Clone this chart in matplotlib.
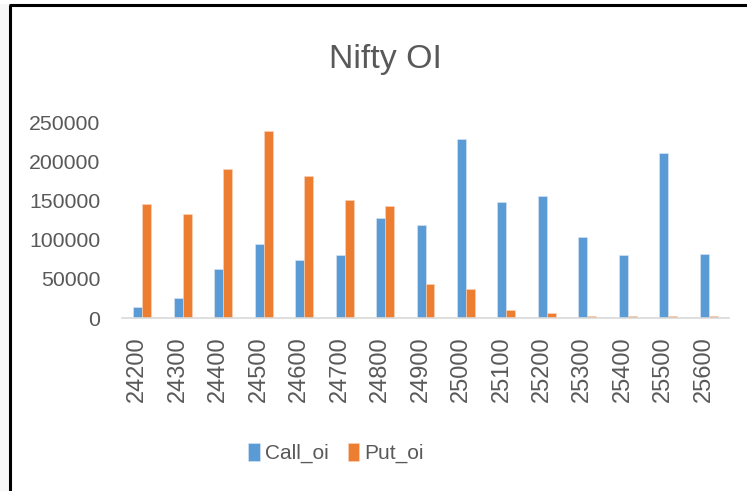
import matplotlib
matplotlib.use("Agg")
import matplotlib.pyplot as plt
import matplotlib.transforms as mtransforms
from matplotlib.lines import Line2D
from matplotlib.patches import Rectangle
import numpy as np

strikes = ["24200", "24300", "24400", "24500", "24600", "24700", "24800", "24900",
           "25000", "25100", "25200", "25300", "25400", "25500", "25600"]
call_oi = [14000, 25000, 63000, 95000, 74500, 80000, 127500, 118500,
           228000, 148500, 156000, 103000, 80000, 211000, 82000]
put_oi = [146000, 133000, 190000, 239000, 180500, 150500, 142500, 43000,
          36500, 10000, 6000, 2500, 2500, 2500, 2500]
yticks = [0, 50000, 100000, 150000, 200000, 250000]

plt.rcParams['font.family'] = ['Liberation Sans', 'DejaVu Sans']
TXT = '#595959'
W, H = 747, 491
fig = plt.figure(figsize=(W / 100, H / 100), dpi=100)
fig.patch.set_facecolor('white')

# frame of the screenshot
fig.patches.append(Rectangle((0, 0), 9 / W, 1 - 4 / H, transform=fig.transFigure,
                             facecolor='#f7f7f7', edgecolor='none', zorder=0))
fig.add_artist(Line2D([10 / W, 10 / W], [0, 1 - 5 / H], transform=fig.transFigure,
                      color='black', lw=2.2, solid_capstyle='butt'))
fig.add_artist(Line2D([9 / W, 1], [1 - 5 / H, 1 - 5 / H], transform=fig.transFigure,
                      color='black', lw=2.2, solid_capstyle='butt'))

ax = fig.add_axes([122 / W, 1 - 318 / H, (729 - 122) / W, (318 - 122) / H])
x = np.arange(len(strikes))
w = 0.222
ax.bar(x - w / 2, call_oi, width=w, color='#5B9BD5', edgecolor='#dbe8f5', linewidth=0.4, label='Call_oi')
ax.bar(x + w / 2, put_oi, width=w, color='#ED7D31', edgecolor='#f9d5bd', linewidth=0.4, label='Put_oi')

ax.set_xlim(-0.5, len(strikes) - 0.5)
ax.set_ylim(0, 250000)
ax.set_yticks(yticks)
ax.set_yticklabels([str(v) for v in yticks], fontsize=15.3, color=TXT)
ax.set_xticks(x)
ax.set_xticklabels(strikes, rotation=90, fontsize=17, color=TXT)
ax.tick_params(axis='y', length=0, pad=15.5)
ax.tick_params(axis='x', length=0, pad=13.5)
shift = mtransforms.ScaledTranslation(-5 / 100, 0, fig.dpi_scale_trans)
for lab in ax.get_xticklabels():
    lab.set_transform(lab.get_transform() + shift)
for s in ['top', 'right', 'left']:
    ax.spines[s].set_visible(False)
ax.spines['bottom'].set_color('#d9d9d9')
ax.spines['bottom'].set_linewidth(1.2)
ax.set_facecolor('none')

fig.text(385 / W, 1 - 67.7 / H, 'Nifty OI', ha='center', va='baseline', fontsize=24.4, color=TXT)

fig.legend(loc='center', bbox_to_anchor=(336 / W, 1 - 453 / H), ncol=2, frameon=False,
           fontsize=15, handlelength=0.55, handleheight=1.0, handletextpad=0.25,
           columnspacing=0.9, labelcolor=TXT)

fig.savefig('out.png', dpi=100)
